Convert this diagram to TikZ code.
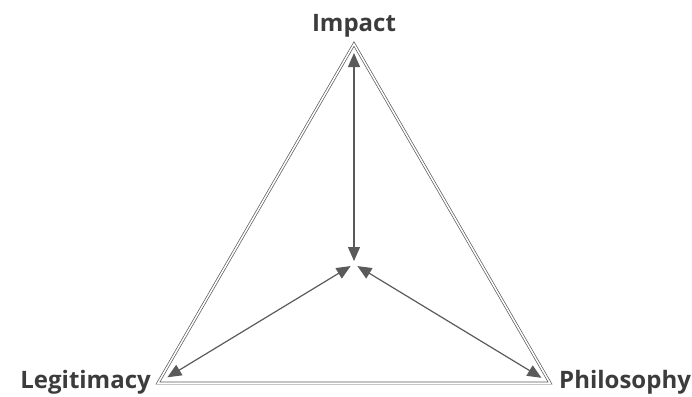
\documentclass[tikz,border=0pt]{standalone}
\usepackage{fontspec}
\setmainfont{Open Sans}
\usetikzlibrary{arrows.meta}
\definecolor{inkgray}{HTML}{3C3C3C}
\definecolor{linegray}{HTML}{5A5A5A}
\begin{document}
\begin{tikzpicture}[x=1pt, y=-1pt,
    lbl/.style={font=\fontsize{24}{28}\selectfont\bfseries, text=inkgray, inner sep=0pt},
    edge/.style={draw=linegray, line width=0.7pt, double=white, double distance=1.5pt, line join=miter},
    arr/.style={{Triangle[length=14pt, width=12pt]}-{Triangle[length=14pt, width=12pt]}, color=linegray, line width=1.2pt}
  ]
    \useasboundingbox (0,0) rectangle (692,396);

    % -- corners of the triangle
    \coordinate (top) at (354,44);
    \coordinate (left) at (158,383);
    \coordinate (right) at (550,383);
    \coordinate (mid) at (354,264);

    % -- labels
    \node[lbl, anchor=base] (impact) at (354,32) {Impact};
    \node[lbl, anchor=base east] (legit) at (151,388) {Legitimacy};
    \node[lbl, anchor=base west] (philo) at (559,388) {Philosophy};

    % -- triangle
    \draw[edge] (top) -- (right) -- (left) -- cycle;

    % -- arrows to the centre
    \draw[arr, shorten <=3pt, shorten >=9pt] (mid) -- (top);
    \draw[arr, shorten <=4pt, shorten >=11pt] (mid) -- (left);
    \draw[arr, shorten <=4pt, shorten >=10pt] (mid) -- (right);
\end{tikzpicture}
\end{document}
